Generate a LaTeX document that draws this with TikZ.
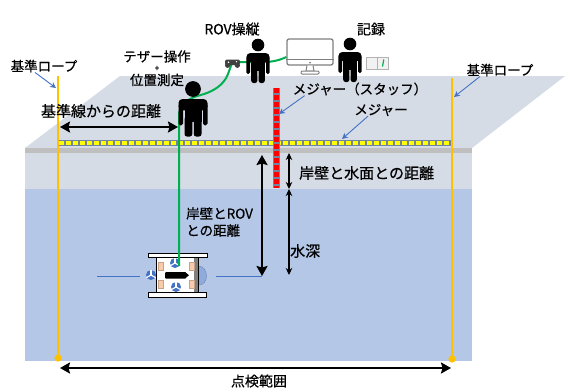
\documentclass[tikz,border=0pt]{standalone}
\usepackage{fontspec}
\setmainfont{Noto Sans CJK JP}[FakeBold=0.6]
\usepackage{tikz}
\usetikzlibrary{arrows.meta,positioning}

\definecolor{deckgray}{HTML}{D6DCE5}
\definecolor{edgegray}{HTML}{BFBFBF}
\definecolor{waterblue}{HTML}{B4C7E7}
\definecolor{ropeorange}{HTML}{FFC000}
\definecolor{tethergreen}{HTML}{00B050}
\definecolor{ptrblue}{HTML}{4472C4}
\definecolor{tapeblue}{HTML}{7384A0}
\definecolor{tapeyellow}{HTML}{FFFF00}
\definecolor{peach}{HTML}{F8CBAD}
\definecolor{domeblue}{HTML}{8FAADC}
\definecolor{padgray}{HTML}{404040}
\definecolor{monitorgray}{HTML}{7F7F7F}
\definecolor{bookgray}{HTML}{F2F2F2}

\begin{document}
\begin{tikzpicture}[x=1pt,y=-1pt,>={Stealth[length=10pt,width=11pt,inset=1.5pt]},
                    font=\fontsize{14}{16}\selectfont,
                    person/.pic={
                      \fill (0,0) circle (6.3);
                      \fill[rounded corners=4pt] (-11.6,8) rectangle (11.6,17);
                      \fill (-6.8,12) rectangle (6.8,26);
                      \fill[rounded corners=1.6pt] (-11.6,12) rectangle (-8,29);
                      \fill[rounded corners=1.6pt] (8,12) rectangle (11.6,29);
                      \fill[rounded corners=2.4pt] (-6.8,22) rectangle (-0.6,38);
                      \fill[rounded corners=2.4pt] (0.6,22) rectangle (6.8,38);
                    }]
  \tikzstyle{every node}=[inner sep=0pt]
  \tikzstyle{dim}=[<->,line width=2.6pt]
  \tikzstyle{thin dim}=[<->,line width=1.2pt,>={Stealth[length=7pt,width=6.5pt]}]
  \tikzstyle{pointer}=[->,draw=ptrblue,line width=0.9pt,>={Stealth[length=6pt,width=6pt]}]
  \tikzstyle{rope}=[draw=ropeorange,line width=2.2pt]
  \tikzstyle{tether}=[draw=tethergreen,line width=2pt]
  \tikzstyle{refline}=[draw=ptrblue,line width=0.9pt]
  \tikzstyle{small}=[font=\fontsize{13.5}{17}\selectfont]

  \useasboundingbox (0,0) rectangle (565,389);

  % quay top, quay wall and water
  \fill[deckgray] (120,76) -- (565,76) -- (472,148) -- (25,148) -- cycle;
  \fill[deckgray] (25,148) rectangle (472,189);
  \fill[edgegray] (25,148) rectangle (472,153);
  \fill[waterblue] (25,189) rectangle (472,361);

  % base ropes
  \coordinate (LT) at (58,76);  \coordinate (LB) at (58,358);
  \coordinate (RT) at (452,78); \coordinate (RB) at (452,359);
  \draw[rope] (LT) -- (LB);
  \draw[rope] (RT) -- (RB);
  \fill[ropeorange] (LB) circle (3.6) (RB) circle (3.6);

  % tape along the quay
  \coordinate (TL) at (59,143); \coordinate (TR) at (451,143);
  \draw[tapeblue,line width=6pt] (TL) -- (TR);
  \draw[tapeyellow,line width=4pt,dash pattern=on 4.5pt off 2.5pt] (TL) -- (TR);

  % staff
  \coordinate (ST) at (276.5,88); \coordinate (SB) at (276.5,188);
  \draw[tapeblue,line width=7pt] (ST) -- (SB);
  \draw[red,line width=4.5pt,dash pattern=on 4.5pt off 2.5pt] (ST) -- (SB);

  % ROV
  \coordinate (RL1) at (97,276);  \coordinate (RL2) at (140,276);
  \coordinate (RR1) at (216,276); \coordinate (RR2) at (262,276);
  \draw[refline] (RL1) -- (RL2);
  \draw[refline] (RR1) -- (RR2);
  \filldraw[fill=domeblue,draw=domeblue!80!black,line width=0.4pt]
    (199,266) .. controls (209,267) and (209,285) .. (199,285) -- cycle;
  \filldraw[fill=white,draw=black!80,line width=0.8pt] (156,257) rectangle (198,293);
  \fill[monitorgray] (194,257) rectangle (198.5,293);
  \draw[line width=1.5pt] (156.5,257) -- (156.5,293);
  \draw[line width=0.8pt] (198.5,257) -- (198.5,293);
  \filldraw[fill=white,draw=black,line width=1pt] (148,253) rectangle (207,257.5);
  \filldraw[fill=white,draw=black,line width=1pt] (148,292.5) rectangle (206,297);
  \foreach \x in {158,189}
    \foreach \y in {262,280}
      \filldraw[fill=peach,draw=peach!80!black,line width=0.4pt] (\x,\y) rectangle ++(5.5,8);
  \fill[rounded corners=1pt] (165,272) rectangle (186,278.5);
  \fill (185,272) -- (189,275.25) -- (185,278.5) -- cycle;
  \foreach \p in {(175,263),(176,287),(151,275)} {
    \fill[ptrblue] \p circle (5);
    \foreach \a in {30,150,270}
      \draw[white,line width=1.1pt] \p -- ++(\a:5.2);
    \fill[white] \p circle (1.1);
  }
  \coordinate (rovtop) at (179,266);

  % tether from the ROV up to the operators
  \coordinate (ctrl) at (232,63);
  \node[draw=monitorgray,line width=1.3pt,fill=white,rounded corners=2pt,
        minimum width=46pt,minimum height=26pt] (mon) at (310,52) {};
  \draw[tether] (rovtop) -- (179,113) .. controls (181,104) and (189,98) .. (199,95.5)
    .. controls (213,92) and (224,85) .. (228,74) .. controls (229.5,69) .. (ctrl);
  \draw[tether] (ctrl) .. controls (250,60) and (268,66) .. ([yshift=-5pt]mon.west);

  % people
  \pic[scale=1.25] at (193,89) {person};
  \pic at (258,45) {person};
  \pic at (350,44) {person};

  % game pad
  \fill[padgray,rounded corners=2pt] (225,59.5) rectangle (240,65);
  \fill[padgray] (227.6,65.3) circle (2.6) (237.4,65.3) circle (2.6);
  \fill[white] (236.5,61.6) circle (0.8) (228.5,62.2) circle (0.8);

  % monitor chin and stand
  \draw[monitorgray,line width=1.3pt] ([yshift=6pt]mon.south west) -- ([yshift=6pt]mon.south east);
  \fill[monitorgray] ([yshift=3pt]mon.south) circle (1);
  \filldraw[fill=white,draw=monitorgray,line width=1pt] (307,65.5) -- (306,71) -- (314,71) -- (313,65.5);
  \filldraw[fill=white,draw=monitorgray,line width=1pt,rounded corners=1pt] (301,71) rectangle (319,74);

  % notebook
  \filldraw[fill=bookgray,draw=black!30,line width=0.5pt] (366,57) rectangle (388,69);
  \draw[black!30,line width=0.5pt] (377,57) -- (377,69);
  \draw[tethergreen,line width=1.2pt] (382.5,66.5) -- (383.8,59.5);

  % distances
  \coordinate (A1) at (60,127);  \coordinate (A2) at (178,127);
  \draw[dim] (A1) -- (A2);
  \coordinate (W1) at (262,155); \coordinate (W2) at (262,276);
  \draw[dim] (W1) -- (W2);
  \coordinate (H1) at (289,153); \coordinate (H2) at (289,189); \coordinate (H3) at (289,275);
  \draw[thin dim] (H1) -- (H2);
  \draw[thin dim] (H2) -- (H3);
  \coordinate (B1) at (60,368);  \coordinate (B2) at (451,368);
  \draw[dim] (B1) -- (B2);

  % labels
  \node (basedist) at (101,111) {\fontsize{15}{17}\selectfont 基準線からの距離};
  \node[small,align=left,anchor=west] (rovdist) at (186,222) {岸壁とROV\\との距離};
  \node[anchor=west] (surf) at (299,173) {\fontsize{15}{17}\selectfont 岸壁と水面との距離};
  \node[anchor=west] (depth) at (290,251) {\fontsize{15}{17}\selectfont 水深};
  \node (range) at (259,381) {点検範囲};
  \node (pilot) at (232,29) {ROV操縦};
  \node (record) at (371,29) {記録};
  \node[small] (tz1) at (157,56.5) {テザー操作};
  \node (plus) at (157,68.5) {\fontsize{8}{8}\selectfont +};
  \node[small] (tz2) at (157,80) {位置測定};

  % pointer labels
  \node[small] (ropeL) at (44,66) {基準ロープ};
  \node[small] (ropeR) at (500,70) {基準ロープ};
  \node[small] (staff) at (360,89) {メジャー（スタッフ）};
  \node[small] (tape) at (381,110) {メジャー};
  \coordinate (ropeLtip) at (56,88);
  \coordinate (ropeRtip) at (454,97);
  \coordinate (stafftip) at (279,114);
  \coordinate (tapetip) at (342,139);
  \draw[pointer] ([xshift=-9pt]ropeL.south) -- (ropeLtip);
  \draw[pointer] ([xshift=-20pt]ropeR.south) -- (ropeRtip);
  \draw[pointer] ([xshift=12pt]staff.south west) -- (stafftip);
  \draw[pointer] ([xshift=-13pt]tape.south) -- (tapetip);
\end{tikzpicture}
\end{document}
